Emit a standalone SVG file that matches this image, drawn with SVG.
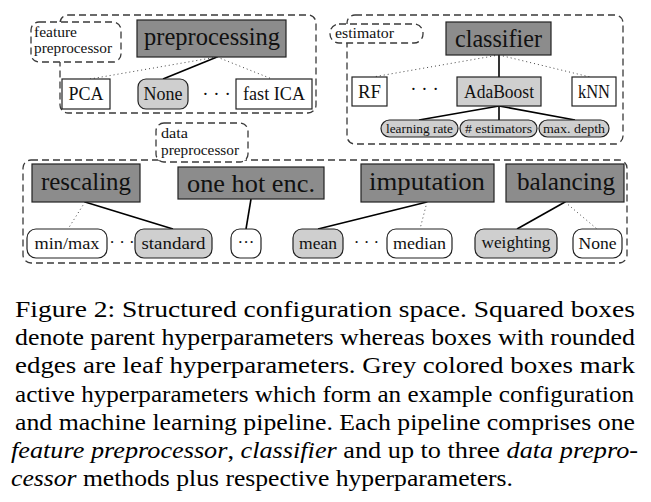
<svg xmlns="http://www.w3.org/2000/svg" width="651" height="502" viewBox="0 0 651 502">
<style>
  .grp { fill: none; stroke: #3a3a3a; stroke-width: 1.3; stroke-dasharray: 7 4; }
  .lbl { fill: #fff; stroke: #3a3a3a; stroke-width: 1.3; stroke-dasharray: 7 4; }
  .par { fill: #8c8c8c; stroke: #222; stroke-width: 1.2; }
  .leafw { fill: #fff; stroke: #222; stroke-width: 1.2; }
  .leafg { fill: #cfcfcf; stroke: #222; stroke-width: 1.2; }
  .t { font-family: "Liberation Serif", "Times New Roman", serif; fill: #111; }
  .big { font-size: 26px; text-anchor: middle; }
  .med { font-size: 19px; text-anchor: middle; }
  .sm { font-size: 17px; text-anchor: middle; }
  .xs { font-size: 12px; text-anchor: middle; }
  .lab { font-size: 14px; }
  .cap { font-family: "Liberation Serif", "Times New Roman", serif; font-size: 22.5px; fill: #000; }
  .solid { stroke: #000; stroke-width: 1.6; fill: none; }
  .dot { stroke: #444; stroke-width: 1; stroke-dasharray: 1 3; fill: none; }
</style>

<g id="connectors">
  <line class="solid" x1="217" y1="57" x2="163" y2="79"/>
  <line class="dot" x1="217" y1="57" x2="90" y2="79"/>
  <line class="dot" x1="217" y1="57" x2="272" y2="79"/>
  <line class="solid" x1="499" y1="55" x2="499" y2="77"/>
  <line class="dot" x1="499" y1="55" x2="373" y2="77"/>
  <line class="dot" x1="499" y1="55" x2="590" y2="77"/>
  <line class="solid" x1="499" y1="106" x2="419" y2="120"/>
  <line class="solid" x1="499" y1="106" x2="499" y2="120"/>
  <line class="solid" x1="499" y1="106" x2="575" y2="120"/>
  <line class="solid" x1="85" y1="202" x2="173" y2="229"/>
  <line class="dot" x1="85" y1="202" x2="68" y2="229"/>
  <line class="solid" x1="251" y1="199" x2="246" y2="229"/>
  <line class="solid" x1="427" y1="202" x2="318" y2="229"/>
  <line class="dot" x1="427" y1="202" x2="420" y2="229"/>
  <line class="solid" x1="565" y1="202" x2="517" y2="229"/>
  <line class="dot" x1="565" y1="202" x2="597" y2="229"/>
</g>

<!-- group frames -->
<g id="feature-preprocessor-group">
  <rect class="grp" x="60" y="15" width="256" height="98" rx="8"/>
  <rect class="lbl" x="31" y="22" width="90" height="40" rx="8"/>
  <text class="t lab" x="34" y="37" textLength="43" lengthAdjust="spacingAndGlyphs">feature</text>
  <text class="t lab" x="34" y="53" textLength="78" lengthAdjust="spacingAndGlyphs">preprocessor</text>
</g>
<g id="estimator-group">
  <rect class="grp" x="347" y="15" width="276" height="129" rx="8"/>
  <rect class="lbl" x="330" y="24" width="93" height="19" rx="9"/>
  <text class="t lab" x="335" y="38" textLength="59" lengthAdjust="spacingAndGlyphs">estimator</text>
</g>
<g id="data-preprocessor-group">
  <rect class="grp" x="23" y="160" width="604" height="103" rx="8"/>
  <rect class="lbl" x="156" y="123" width="92" height="39" rx="8"/>
  <text class="t lab" x="161" y="138" textLength="27" lengthAdjust="spacingAndGlyphs">data</text>
  <text class="t lab" x="161" y="155" textLength="78" lengthAdjust="spacingAndGlyphs">preprocessor</text>
</g>

<!-- parent nodes -->
<g id="preprocessing">
  <rect class="par" x="137" y="20" width="149" height="37"/>
  <text class="t big" x="212" y="45" textLength="136" lengthAdjust="spacingAndGlyphs">preprocessing</text>
</g>
<g id="classifier">
  <rect class="par" x="446" y="22" width="105" height="33"/>
  <text class="t big" x="498.5" y="47" textLength="87" lengthAdjust="spacingAndGlyphs">classifier</text>
</g>
<g id="rescaling">
  <rect class="par" x="32" y="164" width="108" height="38"/>
  <text class="t big" x="86" y="190" textLength="90" lengthAdjust="spacingAndGlyphs">rescaling</text>
</g>
<g id="one-hot-enc">
  <rect class="par" x="178" y="167" width="146" height="32"/>
  <text class="t big" x="251" y="192" textLength="128" lengthAdjust="spacingAndGlyphs">one hot enc.</text>
</g>
<g id="imputation">
  <rect class="par" x="361" y="164" width="133" height="38"/>
  <text class="t big" x="427" y="190" textLength="116" lengthAdjust="spacingAndGlyphs">imputation</text>
</g>
<g id="balancing">
  <rect class="par" x="506" y="164" width="118" height="38"/>
  <text class="t big" x="566" y="190" textLength="98" lengthAdjust="spacingAndGlyphs">balancing</text>
</g>

<!-- feature preprocessor choices -->
<g id="pca">
  <rect class="leafw" x="62" y="79" width="48" height="30"/>
  <text class="t med" x="86" y="100" textLength="35" lengthAdjust="spacingAndGlyphs">PCA</text>
</g>
<g id="none-fp">
  <rect class="leafg" x="138" y="79" width="50" height="30" rx="8"/>
  <text class="t med" x="163" y="100" textLength="39" lengthAdjust="spacingAndGlyphs">None</text>
</g>
<g id="dots-fp">
  <text class="t med" x="216.5" y="100">· · ·</text>
</g>
<g id="fast-ica">
  <rect class="leafw" x="236" y="79" width="76" height="30"/>
  <text class="t med" x="274" y="100" textLength="62" lengthAdjust="spacingAndGlyphs">fast ICA</text>
</g>

<!-- classifier choices -->
<g id="rf">
  <rect class="leafw" x="352" y="77" width="35" height="29"/>
  <text class="t med" x="369.5" y="98" textLength="23" lengthAdjust="spacingAndGlyphs">RF</text>
</g>
<g id="dots-clf">
  <text class="t med" x="424.5" y="95">· · ·</text>
</g>
<g id="adaboost">
  <rect class="leafg" x="457" y="77" width="84" height="29"/>
  <text class="t med" x="499" y="98" textLength="70" lengthAdjust="spacingAndGlyphs">AdaBoost</text>
</g>
<g id="knn">
  <rect class="leafw" x="572" y="77" width="44" height="29"/>
  <text class="t med" x="594" y="98" textLength="32" lengthAdjust="spacingAndGlyphs">kNN</text>
</g>
<g id="learning-rate">
  <rect class="leafg" x="381" y="120" width="77" height="17" rx="8.5"/>
  <text class="t xs" x="419.5" y="132.5" textLength="67" lengthAdjust="spacingAndGlyphs">learning rate</text>
</g>
<g id="n-estimators">
  <rect class="leafg" x="460" y="120" width="77" height="17" rx="8.5"/>
  <text class="t xs" x="498.5" y="132.5" textLength="67" lengthAdjust="spacingAndGlyphs"># estimators</text>
</g>
<g id="max-depth">
  <rect class="leafg" x="539" y="120" width="70" height="17" rx="8.5"/>
  <text class="t xs" x="574" y="132.5" textLength="62" lengthAdjust="spacingAndGlyphs">max. depth</text>
</g>

<!-- data preprocessor leaves -->
<g id="minmax">
  <rect class="leafw" x="27" y="229" width="80" height="29" rx="9"/>
  <text class="t sm" x="67" y="249" textLength="65" lengthAdjust="spacingAndGlyphs">min/max</text>
</g>
<g id="dots-resc">
  <text class="t sm" x="122" y="248">· · ·</text>
</g>
<g id="standard">
  <rect class="leafg" x="135" y="229" width="77" height="29" rx="9"/>
  <text class="t sm" x="173.5" y="249" textLength="64" lengthAdjust="spacingAndGlyphs">standard</text>
</g>
<g id="dots-ohe">
  <rect class="leafw" x="231" y="229" width="30" height="29" rx="9"/>
  <text class="t sm" x="246" y="248" font-size="13">···</text>
</g>
<g id="mean">
  <rect class="leafg" x="293" y="229" width="50" height="29" rx="9"/>
  <text class="t sm" x="318" y="249" textLength="38" lengthAdjust="spacingAndGlyphs">mean</text>
</g>
<g id="dots-imp">
  <text class="t sm" x="366.5" y="248">· · ·</text>
</g>
<g id="median">
  <rect class="leafw" x="387" y="229" width="65" height="29" rx="9"/>
  <text class="t sm" x="419.5" y="249" textLength="53" lengthAdjust="spacingAndGlyphs">median</text>
</g>
<g id="weighting">
  <rect class="leafg" x="475" y="229" width="82" height="29" rx="9"/>
  <text class="t sm" x="516" y="248" textLength="69" lengthAdjust="spacingAndGlyphs">weighting</text>
</g>
<g id="none-bal">
  <rect class="leafw" x="573" y="229" width="49" height="29" rx="9"/>
  <text class="t sm" x="597.5" y="249" textLength="38" lengthAdjust="spacingAndGlyphs">None</text>
</g>

<!-- caption -->
<g id="caption">
  <text class="cap" x="15" y="317" textLength="620" lengthAdjust="spacingAndGlyphs">Figure 2:  Structured configuration space.  Squared boxes</text>
  <text class="cap" x="15" y="345.2" textLength="620" lengthAdjust="spacingAndGlyphs">denote parent hyperparameters whereas boxes with rounded</text>
  <text class="cap" x="15" y="373.4" textLength="620" lengthAdjust="spacingAndGlyphs">edges are leaf hyperparameters.  Grey colored boxes mark</text>
  <text class="cap" x="15" y="401.6" textLength="619" lengthAdjust="spacingAndGlyphs">active hyperparameters which form an example configuration</text>
  <text class="cap" x="15" y="429.8" textLength="620" lengthAdjust="spacingAndGlyphs">and machine learning pipeline. Each pipeline comprises one</text>
  <text class="cap" x="11" y="458" textLength="627" lengthAdjust="spacingAndGlyphs"><tspan font-style="italic">feature preprocessor</tspan>, <tspan font-style="italic">classifier</tspan> and up to three <tspan font-style="italic">data prepro-</tspan></text>
  <text class="cap" x="11" y="486.2" textLength="502" lengthAdjust="spacingAndGlyphs"><tspan font-style="italic">cessor</tspan> methods plus respective hyperparameters.</text>
</g>
</svg>
